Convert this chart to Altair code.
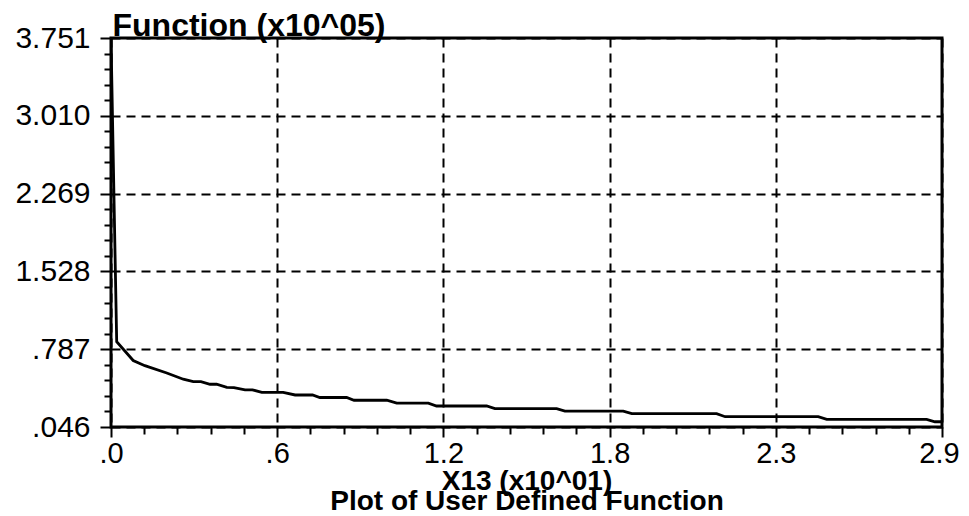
import altair as alt
import numpy as np
import pandas as pd

# Curve (x in units of 10^1, y in units of 10^5)
x_vals = [0.0, 0.020, 0.078, 0.119, 0.196, 0.254, 0.289, 0.316, 0.348, 0.371,
          0.407, 0.432, 0.471, 0.497, 0.530, 0.605, 0.647, 0.708, 0.734, 0.828,
          0.854, 0.969, 1.004, 1.115, 1.144, 1.320, 1.349, 1.566, 1.595, 1.800,
          1.830, 2.128, 2.158, 2.485, 2.515, 2.866, 2.895, 2.920]
y_vals = [3.751, 0.858, 0.679, 0.630, 0.560, 0.501, 0.479, 0.479, 0.453, 0.453,
          0.424, 0.422, 0.400, 0.400, 0.375, 0.375, 0.351, 0.351, 0.327, 0.327,
          0.301, 0.301, 0.273, 0.273, 0.246, 0.246, 0.221, 0.221, 0.198, 0.198,
          0.173, 0.173, 0.144, 0.144, 0.119, 0.119, 0.096, 0.096]

x_major = [0.0, 0.584, 1.168, 1.752, 2.336, 2.92]
y_major = [0.046, 0.787, 1.528, 2.269, 3.010, 3.751]

x_ticks = [round(v, 4) for v in np.linspace(x_major[0], x_major[-1], 26)]
y_ticks = [round(v, 4) for v in np.linspace(y_major[0], y_major[-1], 26)]

df = pd.DataFrame({"x": x_vals, "y": y_vals})

FONT = "Liberation Sans"

x_major_test = "abs(datum.value/0.584 - round(datum.value/0.584)) < 0.01"
y_major_test = "abs((datum.value-0.046)/0.741 - round((datum.value-0.046)/0.741)) < 0.01"

x_axis = alt.Axis(
    values=x_ticks,
    title=["X13 (x10^01)", "Plot of User Defined Function"],
    titleFont=FONT, titleFontSize=28, titleFontWeight="bold", titleColor="black",
    titleLineHeight=20, titleX=415.5, titleY=62, titleAlign="center",
    titleBaseline="alphabetic",
    domain=False,
    grid=True, gridColor="black", gridDash=[9, 6], gridWidth=2,
    gridOpacity={"condition": {"test": x_major_test, "value": 1}, "value": 0},
    tickColor="black", tickWidth=2,
    tickSize={"condition": {"test": x_major_test, "value": 10}, "value": 7},
    labelFont=FONT, labelFontSize=29, labelColor="black", labelPadding=2,
    labelOffset={"condition": {"test": "datum.value > 2.9", "value": -3}, "value": 0},
    labelFlush=False, labelOverlap=False,
    labelExpr="(" + x_major_test + ") ? (datum.value < 1 ? slice(format(datum.value, '.1f'), 1) : format(datum.value, '.1f')) : ''",
)

y_axis = alt.Axis(
    values=y_ticks,
    title="Function (x10^05)",
    titleFont=FONT, titleFontSize=32, titleFontWeight="bold", titleColor="black",
    titleAngle=0, titleAlign="left", titleBaseline="alphabetic",
    titleX=1, titleY=-3,
    domain=False,
    grid=True, gridColor="black", gridDash=[9, 6], gridWidth=2,
    gridOpacity={"condition": {"test": y_major_test, "value": 1}, "value": 0},
    tickColor="black", tickWidth=2,
    tickSize={"condition": {"test": y_major_test, "value": 11}, "value": 7},
    labelFont=FONT, labelFontSize=30, labelColor="black", labelPadding=10,
    labelOverlap=False,
    labelExpr="(" + y_major_test + ") ? (datum.value < 1 ? slice(format(datum.value, '.3f'), 1) : format(datum.value, '.3f')) : ''",
)

chart = (
    alt.Chart(df)
    .mark_line(color="black", strokeWidth=2.8, clip=True)
    .encode(
        x=alt.X("x:Q", scale=alt.Scale(domain=[x_major[0], x_major[-1]], nice=False, zero=False), axis=x_axis),
        y=alt.Y("y:Q", scale=alt.Scale(domain=[y_major[0], y_major[-1]], nice=False, zero=False), axis=y_axis),
    )
    .properties(
        width=831, height=389,
        autosize=alt.AutoSizeParams(type="none"),
        padding={"left": 103, "top": 30, "right": 19, "bottom": 90},
        background="white",
    )
    .configure_view(stroke="black", strokeWidth=3)
)

chart.save("out.html", embed_options={"renderer": "svg", "actions": False})
